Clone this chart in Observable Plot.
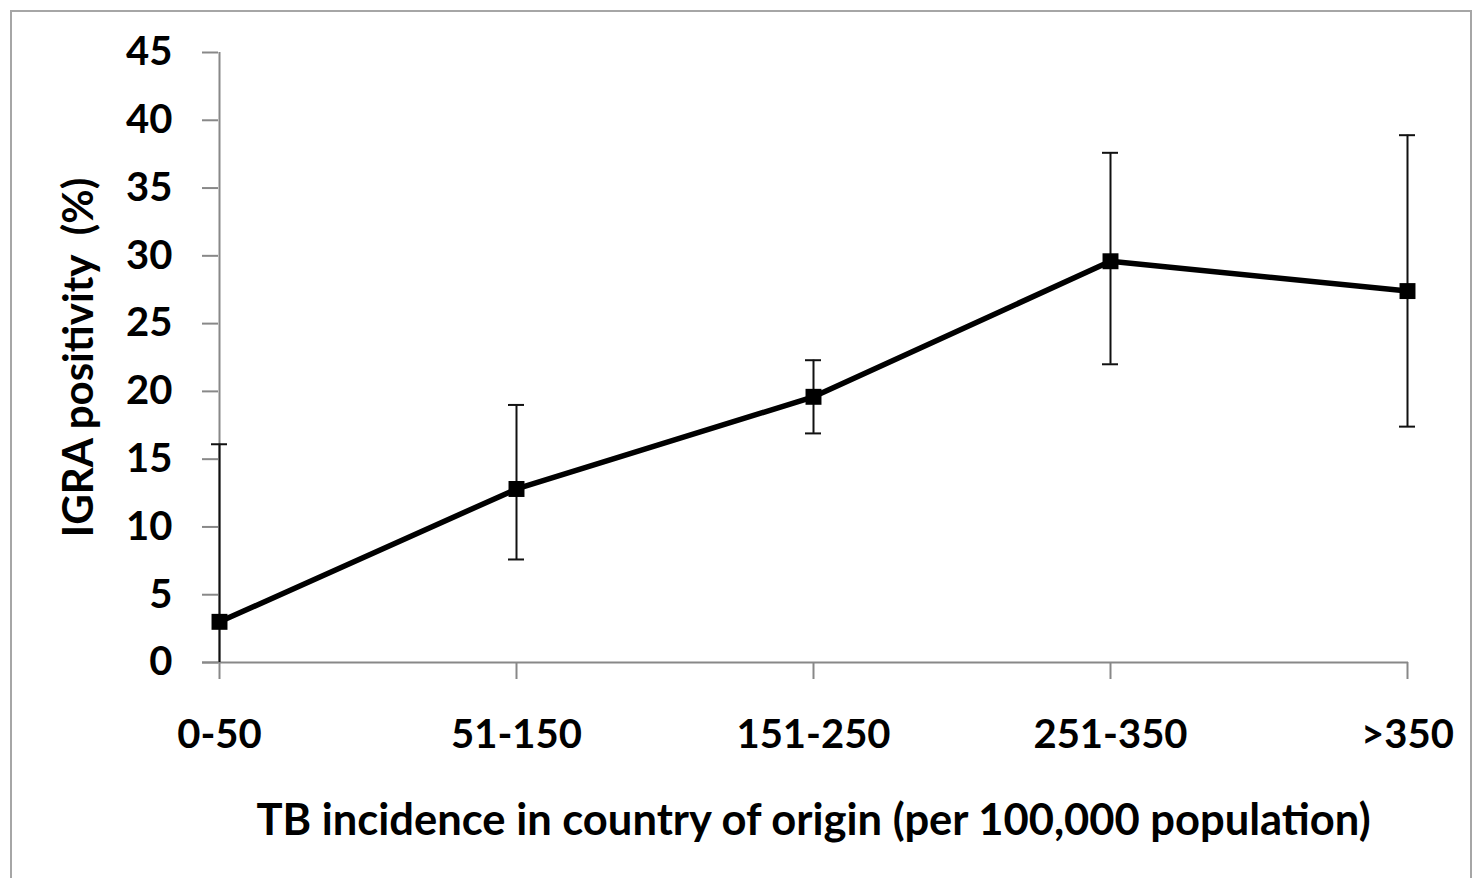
<!DOCTYPE html>
<html>
<head>
<meta charset="utf-8">
<script src="https://cdn.jsdelivr.net/npm/d3@7"></script>
<script src="https://cdn.jsdelivr.net/npm/@observablehq/plot@0.6"></script>
<style>
  html, body { margin: 0; padding: 0; background: #fff; }
  #wrap { position: relative; width: 1476px; height: 878px; overflow: hidden; }
  #frame { position: absolute; left: 10px; top: 10px; width: 1462px; height: 900px; border: 2px solid #a6a6a6; pointer-events: none; box-sizing: border-box; }
  svg { display: block; }
</style>
</head>
<body>
<div id="wrap"><div id="frame"></div></div>
<script>
const categories = ["0-50", "51-150", "151-250", "251-350", ">350"];
const positivity = [3.0, 12.8, 19.6, 29.6, 27.4];
const ciLower = [0, 7.6, 16.9, 22.0, 17.4];
const ciUpper = [16.1, 19.0, 22.3, 37.6, 38.9];
const yTicks = [0, 5, 10, 15, 20, 25, 30, 35, 40, 45];

const data = categories.map((c, i) => ({cat: c, v: positivity[i], lo: ciLower[i], hi: ciUpper[i]}));

const chart = Plot.plot({
  width: 1476,
  height: 878,
  marginLeft: 218,
  marginRight: 68,
  marginTop: 52,
  marginBottom: 216,
  style: {fontFamily: "Lato, 'Open Sans', sans-serif", fontWeight: "bold", fontSize: "40px", color: "#000", background: "transparent"},
  x: {type: "point", domain: categories, padding: 0},
  y: {domain: [0, 45]},
  marks: [
    Plot.ruleY([0], {stroke: "#888", strokeWidth: 2, insetLeft: -16}),
    Plot.ruleX([categories[0]], {y1: 0, y2: 45, stroke: "#888", strokeWidth: 2}),
    Plot.axisY({ticks: yTicks, tickSize: 16, tickPadding: 30, stroke: "#888", strokeWidth: 2, strokeOpacity: 1,
      label: null}),
    Plot.axisY({ticks: [], label: "IGRA positivity  (%)", labelAnchor: "center", labelArrow: "none", labelOffset: 155, fontSize: 42}),
    Plot.axisX({tickSize: 17, tickPadding: 40, stroke: "#888", strokeWidth: 2, strokeOpacity: 1, label: null}),
    Plot.axisX({ticks: [], label: "TB incidence in country of origin (per 100,000 population)", labelAnchor: "center", labelArrow: "none", labelOffset: 172, fontSize: 43.5}),
    Plot.ruleX(data, {x: "cat", y1: "lo", y2: "hi", stroke: "#111", strokeWidth: 2}),
    Plot.ruleY(data.filter(d => d.lo > 0), {x1: "cat", x2: "cat", y: "lo", stroke: "#111", strokeWidth: 2, insetLeft: -8, insetRight: -8}),
    Plot.ruleY(data, {x1: "cat", x2: "cat", y: "hi", stroke: "#111", strokeWidth: 2, insetLeft: -8, insetRight: -8}),
    Plot.line(data, {x: "cat", y: "v", stroke: "#000", strokeWidth: 5.5}),
    Plot.dot(data, {x: "cat", y: "v", symbol: "square", r: 9, fill: "#000", stroke: "none"})
  ]
});
document.getElementById("wrap").prepend(chart);
</script>
</body>
</html>
